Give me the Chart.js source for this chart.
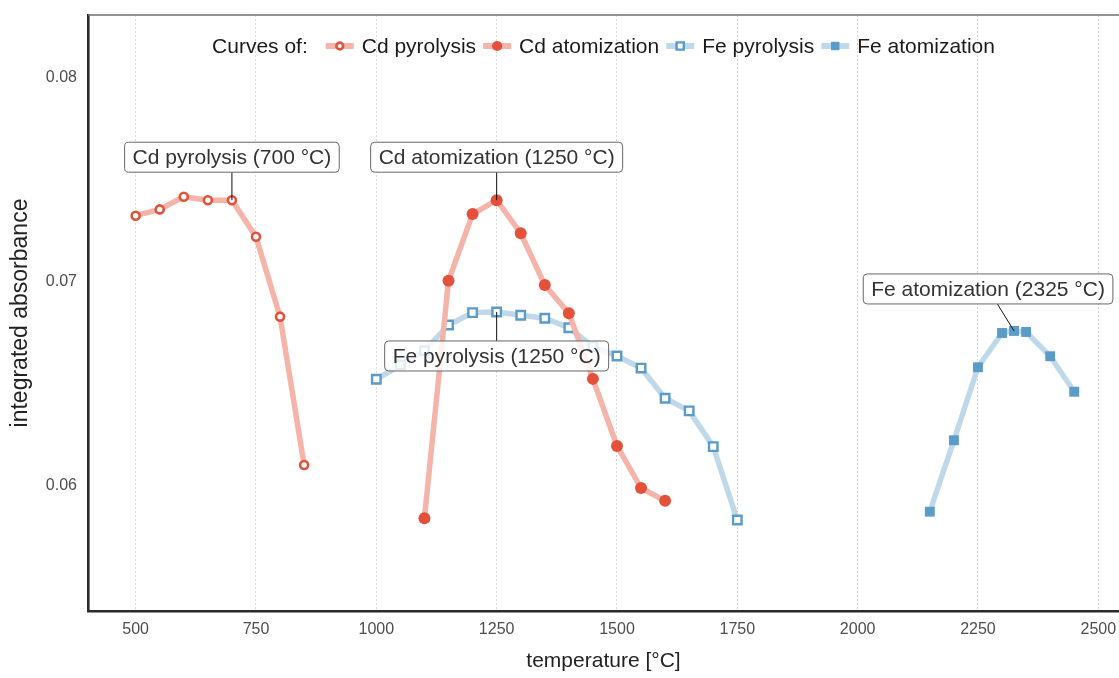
<!DOCTYPE html>
<html lang="en">
<head>
<meta charset="UTF-8" />
<title>Cd / Fe pyrolysis and atomization curves</title>
<script src="https://cdn.jsdelivr.net/npm/chart.js"></script>
<style>
  html, body { margin: 0; background: #fff; }
  #wrap { width: 1119px; height: 678px; }
</style>
</head>
<body>
<div id="wrap"><canvas id="curves" width="1119" height="678"></canvas></div>
<script>
// values
const cdPyroTemps = [500, 550, 600, 650, 700, 750, 800, 850];
const cdPyroAbs = [0.07325, 0.07356, 0.07418, 0.07401, 0.07401, 0.07222, 0.06830, 0.06103];

const cdAtomTemps = [1100, 1150, 1200, 1250, 1300, 1350, 1400, 1450, 1500, 1550, 1600];
const cdAtomAbs = [0.05842, 0.07006, 0.07333, 0.07401, 0.07239, 0.06985, 0.06847, 0.06525, 0.06196, 0.05990, 0.05927];

const fePyroTemps = [1000, 1050, 1100, 1150, 1200, 1250, 1300, 1350, 1400, 1450, 1500, 1550, 1600, 1650, 1700, 1750];
const fePyroAbs = [0.06523, 0.06593, 0.06663, 0.06789, 0.06850, 0.06853, 0.06837, 0.06822, 0.06776, 0.06683, 0.06637, 0.06578, 0.06430, 0.06368, 0.06193, 0.05833];

const feAtomTemps = [2150, 2200, 2250, 2300, 2325, 2350, 2400, 2450];
const feAtomAbs = [0.05874, 0.06224, 0.06582, 0.06750, 0.06760, 0.06755, 0.06636, 0.06462];

const seriesNames = ['Cd pyrolysis', 'Cd atomization', 'Fe pyrolysis', 'Fe atomization'];
const optimumTemps = [700, 1250, 1250, 2325];
const optimumLabels = ['Cd pyrolysis (700 °C)', 'Cd atomization (1250 °C)', 'Fe pyrolysis (1250 °C)', 'Fe atomization (2325 °C)'];

const xTicks = [500, 750, 1000, 1250, 1500, 1750, 2000, 2250, 2500];
const yTicks = [0.06, 0.07, 0.08];

const FONT = "'Liberation Sans', Arial, sans-serif";
const CD = '#E4513A', CD_LINE = '#F4B4A9';
const FE = '#5A9BC7', FE_LINE = '#C0D9EA';

const pts = (xs, ys) => xs.map((x, i) => ({ x: x, y: ys[i] }));
const allTemps = [cdPyroTemps, cdAtomTemps, fePyroTemps, feAtomTemps];
const allAbs = [cdPyroAbs, cdAtomAbs, fePyroAbs, feAtomAbs];

const datasets = [
  { label: seriesNames[0], data: pts(cdPyroTemps, cdPyroAbs), borderColor: CD_LINE,
    pointStyle: 'circle', pointRadius: 4, pointBorderWidth: 2.6, pointBorderColor: CD, pointBackgroundColor: '#fff' },
  { label: seriesNames[1], data: pts(cdAtomTemps, cdAtomAbs), borderColor: CD_LINE,
    pointStyle: 'circle', pointRadius: 6, pointBorderWidth: 0, pointBorderColor: CD, pointBackgroundColor: CD },
  { label: seriesNames[2], data: pts(fePyroTemps, fePyroAbs), borderColor: FE_LINE,
    pointStyle: 'rect', pointRadius: 6, pointBorderWidth: 2.4, pointBorderColor: FE, pointBackgroundColor: '#fff' },
  { label: seriesNames[3], data: pts(feAtomTemps, feAtomAbs), borderColor: FE_LINE,
    pointStyle: 'rect', pointRadius: 7, pointBorderWidth: 0, pointBorderColor: FE, pointBackgroundColor: FE }
];
datasets.forEach(d => {
  d.borderWidth = 5.5;
  d.borderJoinStyle = 'round';
  d.borderCapStyle = 'round';
  d.fill = false;
  d.tension = 0;
});

// thin top frame line
const topLine = {
  id: 'topLine',
  beforeDatasetsDraw(chart) {
    const { ctx, chartArea: a } = chart;
    ctx.save();
    ctx.strokeStyle = '#6f6f6f';
    ctx.lineWidth = 1.3;
    ctx.beginPath();
    ctx.moveTo(a.left, a.top);
    ctx.lineTo(a.right, a.top);
    ctx.stroke();
    ctx.restore();
  }
};

function drawMarker(ctx, ds, x, y) {
  ctx.save();
  ctx.fillStyle = ds.pointBackgroundColor;
  ctx.strokeStyle = ds.pointBorderColor;
  ctx.lineWidth = ds.pointBorderWidth;
  ctx.beginPath();
  if (ds.pointStyle === 'circle') {
    ctx.arc(x, y, ds.pointRadius * 0.85, 0, Math.PI * 2);
  } else {
    const s = ds.pointRadius * Math.SQRT1_2 * 0.85;
    ctx.rect(x - s, y - s, 2 * s, 2 * s);
  }
  ctx.fill();
  if (ds.pointBorderWidth > 0) ctx.stroke();
  ctx.restore();
}

// legend inside the panel: "Curves of:" + line/marker keys
const panelLegend = {
  id: 'panelLegend',
  afterDatasetsDraw(chart) {
    const { ctx, chartArea: a } = chart;
    const sets = chart.data.datasets;
    const keyW = 28, keyGap = 8, itemGap = 7, titleGap = 18;
    const title = 'Curves of:';
    ctx.save();
    ctx.font = '21px ' + FONT;
    ctx.textBaseline = 'middle';
    let total = ctx.measureText(title).width + titleGap;
    sets.forEach((ds, i) => {
      total += keyW + keyGap + ctx.measureText(ds.label).width + (i < sets.length - 1 ? itemGap : 0);
    });
    let x = (a.left + a.right) / 2 - total / 2;
    const y = 46;
    ctx.fillStyle = '#1a1a1a';
    ctx.fillText(title, x, y + 1);
    x += ctx.measureText(title).width + titleGap;
    sets.forEach(ds => {
      ctx.strokeStyle = ds.borderColor;
      ctx.lineWidth = 6;
      ctx.beginPath();
      ctx.moveTo(x, y);
      ctx.lineTo(x + keyW, y);
      ctx.stroke();
      drawMarker(ctx, ds, x + keyW / 2, y);
      x += keyW + keyGap;
      ctx.fillStyle = '#1a1a1a';
      ctx.fillText(ds.label, x, y + 1);
      x += ctx.measureText(ds.label).width + itemGap;
    });
    ctx.restore();
  }
};

// labelled optimum points (box + leader line)
const labelOffsets = [[0, -43], [0, -43], [0, 44], [-26, -42]];
const optimumBoxes = {
  id: 'optimumBoxes',
  afterDatasetsDraw(chart) {
    const { ctx, scales } = chart;
    ctx.save();
    ctx.font = '21px ' + FONT;
    ctx.textAlign = 'center';
    ctx.textBaseline = 'middle';
    optimumLabels.forEach((txt, i) => {
      const idx = allTemps[i].indexOf(optimumTemps[i]);
      const px = scales.x.getPixelForValue(optimumTemps[i]);
      const py = scales.y.getPixelForValue(allAbs[i][idx]);
      const cx = px + labelOffsets[i][0];
      const cy = py + labelOffsets[i][1];
      const w = ctx.measureText(txt).width + 16, h = 30;
      const edgeY = cy + (labelOffsets[i][1] < 0 ? h / 2 : -h / 2);
      const t = (py - edgeY) / (py - cy);
      const ex = px + (cx - px) * t;
      ctx.strokeStyle = '#111';
      ctx.lineWidth = 1;
      ctx.beginPath();
      ctx.moveTo(px, py);
      ctx.lineTo(ex, edgeY);
      ctx.stroke();
      ctx.beginPath();
      ctx.roundRect(cx - w / 2, cy - h / 2, w, h, 4);
      ctx.fillStyle = 'rgba(255,255,255,0.82)';
      ctx.fill();
      ctx.strokeStyle = '#666';
      ctx.stroke();
      ctx.fillStyle = '#333';
      ctx.fillText(txt, cx, cy + 1);
    });
    ctx.restore();
  }
};

new Chart(document.getElementById('curves'), {
  type: 'line',
  data: { datasets: datasets },
  plugins: [topLine, panelLegend, optimumBoxes],
  options: {
    responsive: false,
    animation: false,
    devicePixelRatio: 1,
    layout: { autoPadding: false, padding: { top: 15, right: 0, left: 0, bottom: 0 } },
    plugins: { legend: { display: false }, tooltip: { enabled: false } },
    scales: {
      x: {
        type: 'linear',
        min: 401, max: 2543,
        afterBuildTicks: s => { s.ticks = xTicks.map(v => ({ value: v })); },
        afterFit: s => { s.height = 67; s.paddingLeft = 0; s.paddingRight = 0; },
        ticks: { callback: v => String(v), color: '#4d4d4d', padding: 9,
                 font: { family: FONT, size: 16 }, maxRotation: 0 },
        grid: { display: true, drawTicks: false, color: '#d8d8d8', lineWidth: 1 },
        border: { display: true, color: '#2b2b2b', width: 2.6, dash: [2, 2] },
        title: { display: true, text: 'temperature [°C]', color: '#222',
                 font: { family: FONT, size: 21 }, padding: { top: 0, bottom: 4 } }
      },
      y: {
        type: 'linear',
        min: 0.05387, max: 0.08309,
        afterBuildTicks: s => { s.ticks = yTicks.map(v => ({ value: v })); },
        afterFit: s => { s.width = 88; s.paddingTop = 0; s.paddingBottom = 0; },
        ticks: { callback: v => v.toFixed(2), color: '#4d4d4d', padding: 11,
                 font: { family: FONT, size: 16 } },
        grid: { display: false, drawTicks: false },
        border: { display: true, color: '#2b2b2b', width: 2.6 },
        title: { display: true, text: 'integrated absorbance', color: '#222',
                 font: { family: FONT, size: 23 }, padding: { top: 7, bottom: 0 } }
      }
    }
  }
});
</script>
</body>
</html>
